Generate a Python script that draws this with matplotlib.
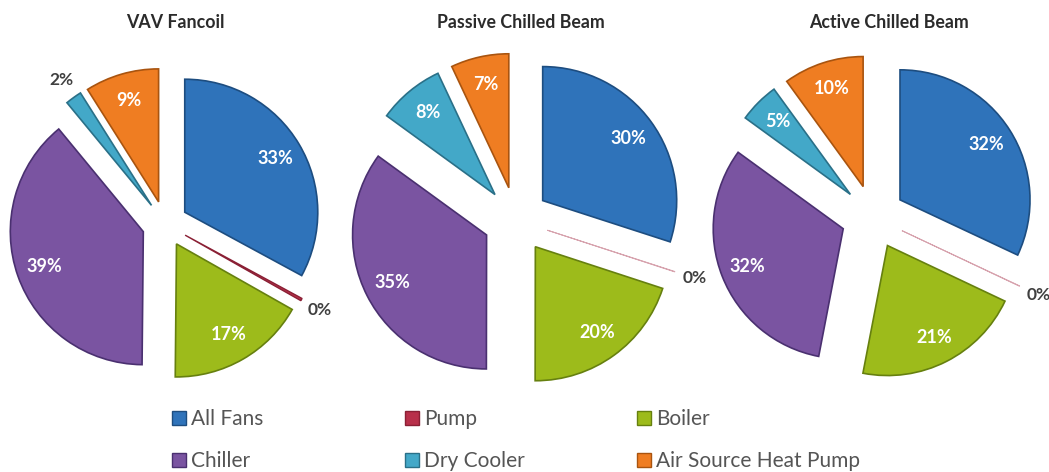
import matplotlib
matplotlib.use("Agg")
import matplotlib.pyplot as plt
import numpy as np
from matplotlib.patches import Patch

# ---- data ----
categories = ["All Fans", "Pump", "Boiler", "Chiller", "Dry Cooler", "Air Source Heat Pump"]
titles = ["VAV Fancoil", "Passive Chilled Beam", "Active Chilled Beam"]
vav_fancoil = [33, 0.3, 17, 39, 2, 9]
passive_beam = [30, 0.05, 20, 35, 8, 7]
active_beam = [32, 0.05, 21, 32, 5, 10]
series = [vav_fancoil, passive_beam, active_beam]

# ---- style ----
colors = ["#2f73ba", "#b8304a", "#9dbb1b", "#7a54a1", "#43a8c8", "#ef7d22"]
edge_colors = ["#1d4d80", "#8a2035", "#66800f", "#4a3070", "#2a7088", "#a9540f"]
FONT = ["Lato", "DejaVu Sans"]

W, H = 1049, 472
fig = plt.figure(figsize=(W / 100, H / 100), dpi=100)
ax = fig.add_axes([0, 0, 1, 1])

centers = [(165, 248), (516, 252), (873, 255)]
radii = [133, 134, 130]
explodes = [23, 33, 32]
title_x = [175, 521, 889]

for vals, (cx, cy), R, ex, ttl, tx in zip(series, centers, radii, explodes, titles, title_x):
    wedges, _ = ax.pie(vals, colors=colors, startangle=90, counterclock=False,
                       explode=[ex] * len(vals), radius=R, center=(cx, cy),
                       frame=True,
                       wedgeprops=dict(linewidth=1.2))
    for w, ec, v in zip(wedges, edge_colors, vals):
        w.set_edgecolor(ec)
        if v < 0.2:
            w.set_edgecolor("#d7a3ae")
            w.set_linewidth(0.7)
        elif v < 1:
            w.set_linewidth(1.0)
        ang = np.deg2rad((w.theta1 + w.theta2) / 2)
        wx, wy = w.center
        label = f"{v:.0f}%"
        if v < 3:
            d = 1.16 * R
            ax.text(wx + d * np.cos(ang), wy + d * np.sin(ang), label,
                    ha="center", va="center", fontsize=12.5, fontweight="bold",
                    color="#404040", family=FONT)
        else:
            d = 0.79 * R
            ax.text(wx + d * np.cos(ang), wy + d * np.sin(ang), label,
                    ha="center", va="center", fontsize=13, fontweight="bold",
                    color="white", family=FONT)
    ax.text(tx, H - 23, ttl, ha="center", va="center", fontsize=12.8,
            fontweight="bold", color="#2b2b2b", family=FONT)

ax.set_xlim(0, W)
ax.set_ylim(0, H)
ax.set_aspect("equal")
ax.axis("off")

# legend: three columns, two rows
legend_cols = [[0, 3], [1, 4], [2, 5]]
col_x = [172, 405, 637]
for idxs, x in zip(legend_cols, col_x):
    handles = [Patch(facecolor=colors[i], edgecolor=edge_colors[i], linewidth=1) for i in idxs]
    labels = [categories[i] for i in idxs]
    leg = fig.legend(handles, labels, loc="center left",
                     bbox_to_anchor=(x / W, 32 / H),
                     frameon=False, handlelength=0.65, handleheight=0.65,
                     handletextpad=0.25, labelspacing=1.05, borderpad=0,
                     borderaxespad=0,
                     prop={"family": FONT, "size": 15})
    for t in leg.get_texts():
        t.set_color("#555555")

fig.savefig("out.png", dpi=100)
